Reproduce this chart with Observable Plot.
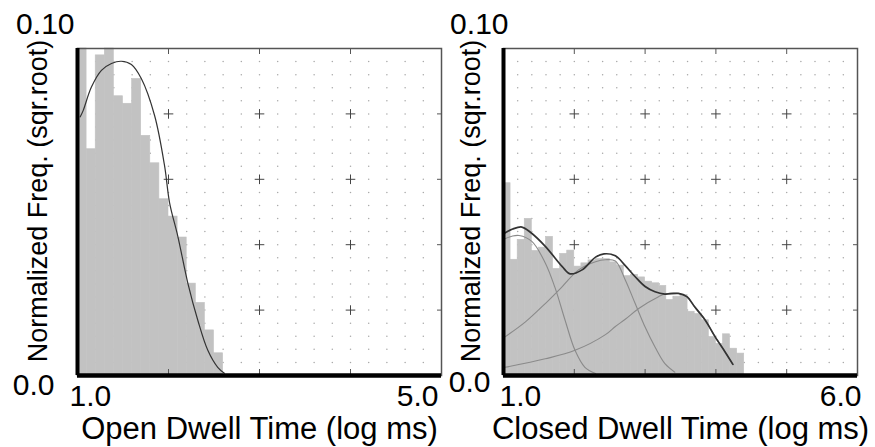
<!DOCTYPE html>
<html><head><meta charset="utf-8">
<script src="https://cdn.jsdelivr.net/npm/d3@7"></script>
<script src="https://cdn.jsdelivr.net/npm/@observablehq/plot@0.6"></script>
<style>
html,body{margin:0;padding:0;background:#fff;}
#wrap{position:relative;width:875px;height:447px;overflow:hidden;}
#wrap svg{position:absolute;top:0;}
</style></head><body><div id="wrap"></div>
<script>
// ---------- data ----------
const binWidth = 0.1;
// Open dwell time histogram (left edge of each 0.1 log-ms bin, sqrt normalized frequency)
const openBinStart = [1.0,1.1,1.2,1.3,1.4,1.5,1.6,1.7,1.8,1.9,2.0,2.1,2.2,2.3,2.4,2.5];
const openFreq = [0.100,0.0692,0.0979,0.100,0.0854,0.0831,0.0907,0.0733,0.0649,0.0539,0.0486,0.0422,0.0281,0.0222,0.0138,0.0068];
const openFitX = [1.03,1.062,1.153,1.263,1.373,1.482,1.592,1.701,1.847,1.957,2.012,2.103,2.213,2.322,2.432,2.541,2.614];
const openFitY = [0.0791,0.0810,0.0882,0.0933,0.0954,0.0961,0.0951,0.0908,0.0795,0.0641,0.0528,0.0425,0.0282,0.0169,0.0077,0.0025,0.0007];

// Closed dwell time histogram
const closedBinStart = [1.0,1.1,1.2,1.3,1.4,1.5,1.6,1.7,1.8,1.9,2.0,2.1,2.2,2.3,2.4,2.5,2.6,2.7,2.8,2.9,3.0,3.1,3.2,3.3,3.4,3.5,3.6,3.7,3.8,3.9,4.0,4.1,4.2,4.3];
const closedFreq = [0.0588,0.0354,0.0415,0.0479,0.0381,0.0391,0.0424,0.0326,0.0372,0.0382,0.0333,0.0343,0.0352,0.0356,0.0356,0.0346,0.0336,0.0304,0.0308,0.0300,0.0287,0.0282,0.0274,0.0231,0.0241,0.0246,0.0195,0.0188,0.0169,0.0118,0.0097,0.0126,0.0082,0.0067];
const closedFitX = [1.02,1.13,1.26,1.38,1.59,1.83,1.94,2.11,2.30,2.42,2.58,2.72,2.86,3.00,3.14,3.28,3.47,3.59,3.70,3.85,3.99,4.13,4.24];
const closedFitY = [0.0436,0.0448,0.0454,0.0438,0.0395,0.0333,0.0311,0.0323,0.0362,0.0372,0.0366,0.0336,0.0302,0.0272,0.0256,0.0249,0.0251,0.0241,0.0210,0.0169,0.0118,0.0072,0.0034];
const comp1X = [1.02,1.12,1.22,1.40,1.59,1.73,1.87,2.01,2.15,2.30];
const comp1Y = [0.0418,0.0426,0.0428,0.0410,0.0344,0.0267,0.0169,0.0077,0.0025,0.0006];
const comp2X = [1.02,1.31,1.59,1.83,2.06,2.30,2.44,2.58,2.72,2.86,3.00,3.14,3.28,3.42];
const comp2Y = [0.0118,0.0164,0.0220,0.0272,0.0323,0.0348,0.0354,0.0350,0.0292,0.0220,0.0148,0.0087,0.0036,0.0010];
const comp3X = [1.02,1.59,2.01,2.44,2.58,2.72,2.91,3.19,3.28,3.47,3.59,3.70,3.85,3.99,4.13,4.24];
const comp3Y = [0.0025,0.0051,0.0077,0.0125,0.0150,0.0172,0.0205,0.0241,0.0249,0.0251,0.0241,0.0210,0.0169,0.0118,0.0072,0.0034];

const yTickLabels = ["0.0", "0.10"];
const yTickValues = [0, 0.1];
const openXTicks = [1, 5], openXLabels = ["1.0", "5.0"];
const closedXTicks = [1, 6], closedXLabels = ["1.0", "6.0"];
const yTitle = "Normalized Freq. (sqr.root)";
const openTitle = "Open Dwell Time (log ms)";
const closedTitle = "Closed Dwell Time (log ms)";
const yMajor = [0.02, 0.04, 0.06, 0.08];

// ---------- drawing ----------
const FONT = "'Liberation Sans', Arial, Helvetica, sans-serif";
const r3 = v => Math.round(v * 1000) / 1000;

function panel(o) {
  const [x0, x1] = o.xDomain;
  const xMinor = d3.range(x0 + 0.2, x1 - 0.01, 0.2).map(r3);
  const yMinor = d3.range(0.004, 0.0999, 0.004).map(r3);
  const isMajX = x => o.xMajor.some(m => Math.abs(m - x) < 1e-6);
  const isMajY = y => yMajor.some(m => Math.abs(m - y) < 1e-6);
  const dots = [], crosses = [];
  for (const x of xMinor) for (const y of yMinor) {
    if (isMajX(x) && isMajY(y)) crosses.push({x, y}); else dots.push({x, y});
  }
  const bars = o.bins.map((b, i) => ({x1: b, x2: r3(b + binWidth), y: o.freq[i]}));
  const line = (xs, ys) => xs.map((x, i) => ({x, y: ys[i]}));
  const marks = [
    Plot.dot(dots, {x: "x", y: "y", r: 0.75, fill: "#a8a8a8"}),
    Plot.dot(crosses, {x: "x", y: "y", symbol: "plus", r: 3.2, stroke: "#444", strokeWidth: 1, fill: "none"}),
    Plot.rectY(bars, {x1: "x1", x2: "x2", y: "y", fill: "#c2c2c2", stroke: "#c2c2c2", strokeWidth: 0.6, inset: 0}),
    ...o.comps.map(c => Plot.line(line(c[0], c[1]), {x: "x", y: "y", curve: "catmull-rom", stroke: "#8a8a8a", strokeWidth: 1.1})),
    Plot.line(line(o.fitX, o.fitY), {x: "x", y: "y", curve: "catmull-rom", stroke: "#333", strokeWidth: o.fitWidth}),
    Plot.frame({stroke: "#555", strokeWidth: 1.5}),
    Plot.axisX({anchor: "top", ticks: o.xMajor, tickSize: -5, tickFormat: () => "", stroke: "#555", label: null}),
    Plot.axisX({anchor: "bottom", ticks: o.xMajor, tickSize: -6, tickFormat: () => "", stroke: "#555", label: null}),
    Plot.axisY({anchor: "right", ticks: yMajor, tickSize: -5, tickFormat: () => "", stroke: "#555", label: null}),
    Plot.ruleY([0], {stroke: "#000", strokeWidth: 4.5}),
    Plot.ruleX([x0], {stroke: "#000", strokeWidth: 4, y1: 0, y2: 0.1}),
    // tick labels
    Plot.text([yTickValues[1]], {y: d => d, text: () => yTickLabels[1], frameAnchor: "left", textAnchor: o.topLab.anchor, lineAnchor: "bottom", dx: o.topLab.dx, dy: -15, fontSize: 30, fill: "#000"}),
    Plot.text([yTickValues[0]], {y: d => d, text: () => yTickLabels[0], frameAnchor: "left", textAnchor: "end", lineAnchor: "bottom", dx: o.zeroLab.dx, dy: o.zeroLab.dy, fontSize: 30, fill: "#000"}),
    Plot.text([o.xTicks[0]], {x: d => d, text: () => o.xLabels[0], frameAnchor: "bottom", textAnchor: "start", lineAnchor: "bottom", dx: o.firstLabDx, dy: 30, fontSize: 30, fill: "#000"}),
    Plot.text([o.xTicks[1]], {x: d => d, text: () => o.xLabels[1], frameAnchor: "bottom", textAnchor: "end", lineAnchor: "bottom", dx: o.lastLabDx, dy: 30, fontSize: 30, fill: "#000"}),
    // titles
    Plot.text([o.xTitle], {frameAnchor: "bottom", text: d => d, textAnchor: "middle", lineAnchor: "bottom", dy: 63.5, fontSize: 31, fill: "#000"}),
    Plot.text([yTitle], {frameAnchor: "left", text: d => d, rotate: -90, textAnchor: "middle", lineAnchor: "bottom", dx: o.yTitleDx, dy: -11, fontSize: 27, fill: "#000"})
  ];
  const svg = Plot.plot({
    width: o.width, height: 447,
    marginLeft: o.marginLeft, marginRight: o.marginRight, marginTop: 48, marginBottom: 72,
    x: {domain: o.xDomain, label: null},
    y: {domain: [0, 0.1], label: null},
    style: {fontFamily: FONT, background: "transparent", overflow: "visible"},
    marks
  });
  svg.style.left = o.left + "px";
  return svg;
}

const wrap = document.getElementById("wrap");
wrap.appendChild(panel({
  left: 0, width: 443, marginLeft: 77, marginRight: 2,
  xDomain: [1, 5], xMajor: [2, 3, 4],
  bins: openBinStart, freq: openFreq, fitX: openFitX, fitY: openFitY, fitWidth: 1.2, comps: [],
  xTicks: openXTicks, xLabels: openXLabels, xTitle: openTitle,
  topLab: {anchor: "end", dx: -3}, zeroLab: {dx: -23, dy: 19},
  firstLabDx: -8, lastLabDx: -3, yTitleDx: -31
}));
wrap.appendChild(panel({
  left: 443, width: 432, marginLeft: 60, marginRight: 18,
  xDomain: [1, 6], xMajor: [2, 3, 4, 5],
  bins: closedBinStart, freq: closedFreq, fitX: closedFitX, fitY: closedFitY, fitWidth: 1.7,
  comps: [[comp1X, comp1Y], [comp2X, comp2Y], [comp3X, comp3Y]],
  xTicks: closedXTicks, xLabels: closedXLabels, xTitle: closedTitle,
  topLab: {anchor: "end", dx: 5}, zeroLab: {dx: -13, dy: 16},
  firstLabDx: -4, lastLabDx: 4, yTitleDx: -24
}));
</script></body></html>
